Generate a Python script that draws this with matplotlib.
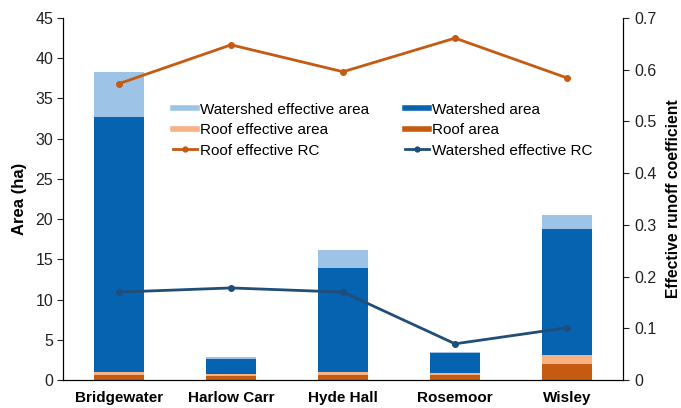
import matplotlib.pyplot as plt
from matplotlib.lines import Line2D
import numpy as np

plt.rcParams['font.family'] = ['Liberation Sans', 'DejaVu Sans']

sites = ['Bridgewater', 'Harlow Carr', 'Hyde Hall', 'Rosemoor', 'Wisley']
roof_area = [0.6, 0.55, 0.6, 0.58, 1.95]
roof_eff_area = [0.35, 0.15, 0.35, 0.25, 1.15]
ws_area = [31.75, 1.9, 12.95, 2.47, 15.7]
ws_eff_area = [5.6, 0.3, 2.3, 0.2, 1.7]
roof_rc = [0.573, 0.648, 0.596, 0.661, 0.584]
ws_rc = [0.170, 0.178, 0.170, 0.070, 0.101]

c_dblue = '#0563AF'
c_lblue = '#9DC3E6'
c_dorange = '#C55A11'
c_lorange = '#F8B183'
c_navy = '#1F4E79'

fig = plt.figure(figsize=(6.81, 4.08), dpi=100)
ax = fig.add_axes([0.0925, 0.0686, 0.8225, 0.8874])
x = np.arange(len(sites))
w = 0.44

# stacked bars
b0 = np.zeros(len(sites))
ax.bar(x, roof_area, w, bottom=b0, color=c_dorange)
b0 = b0 + roof_area
ax.bar(x, roof_eff_area, w, bottom=b0, color=c_lorange)
b0 = b0 + roof_eff_area
ax.bar(x, ws_area, w, bottom=b0, color=c_dblue)
b0 = b0 + ws_area
ax.bar(x, ws_eff_area, w, bottom=b0, color=c_lblue)

ax.set_xlim(-0.5, 4.5)
ax.set_ylim(0, 45)
ax.set_yticks(range(0, 46, 5))
ax.set_xticks(x)
ax.set_xticklabels(sites, fontsize=11, fontweight='bold')
ax.tick_params(axis='x', length=0, pad=8)
ax.tick_params(axis='y', labelsize=11.5, direction='out', length=4, pad=3, colors='#222222')
ax.set_ylabel('Area (ha)', fontsize=12, fontweight='bold', labelpad=6)
ax.spines['top'].set_visible(False)

ax2 = ax.twinx()
ax2.plot(x, roof_rc, color=c_dorange, lw=2, marker='o', ms=4)
ax2.plot(x, ws_rc, color=c_navy, lw=2, marker='o', ms=4)
ax2.set_ylim(0, 0.7)
ax2.set_yticks([0, 0.1, 0.2, 0.3, 0.4, 0.5, 0.6, 0.7])
ax2.set_yticklabels(['0', '0.1', '0.2', '0.3', '0.4', '0.5', '0.6', '0.7'])
ax2.tick_params(axis='y', labelsize=11.5, direction='out', length=4, pad=4, colors='#222222')
ax2.set_ylabel('Effective runoff coefficient', fontsize=11.3, fontweight='bold', labelpad=7)
ax2.spines['top'].set_visible(False)

# legend (thick lines stand in for the bar patches)
handles = [
    Line2D([], [], color=c_lblue, lw=4),
    Line2D([], [], color=c_lorange, lw=4),
    Line2D([], [], color=c_dorange, lw=2, marker='o', ms=3.5),
    Line2D([], [], color=c_dblue, lw=4),
    Line2D([], [], color=c_dorange, lw=4),
    Line2D([], [], color=c_navy, lw=2, marker='o', ms=3.5),
]
labels = ['Watershed effective area', 'Roof effective area', 'Roof effective RC',
          'Watershed area', 'Roof area', 'Watershed effective RC']
ax2.legend(handles, labels, ncol=2, frameon=False, fontsize=11,
           loc='upper left', bbox_to_anchor=(0.254, 0.748), bbox_transform=fig.transFigure,
           handlelength=1.6, handletextpad=0.2, labelspacing=0.42, columnspacing=2.3,
           borderaxespad=0, borderpad=0)

fig.savefig('out.png', dpi=100)
